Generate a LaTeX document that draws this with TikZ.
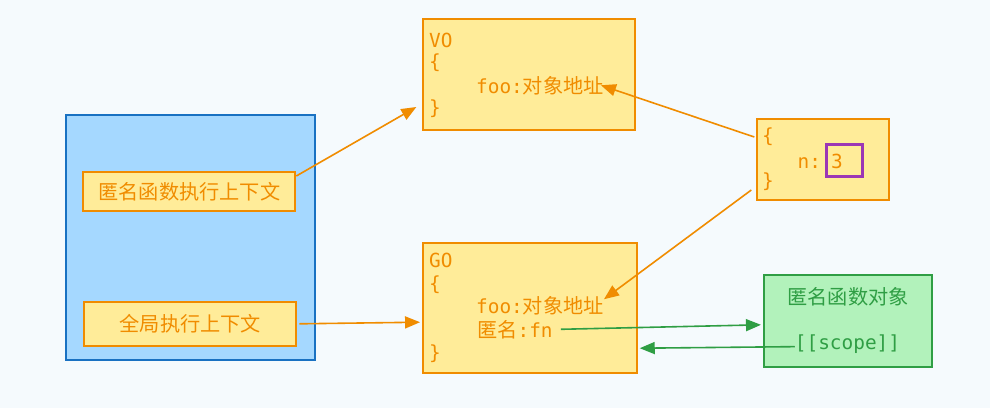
\documentclass[tikz,border=0pt]{standalone}
\usepackage{fontspec}
\setmonofont{DejaVu Sans Mono}
\newfontfamily\cjk{Noto Sans CJK SC}
\usetikzlibrary{arrows.meta}
\definecolor{bg}{HTML}{F5FAFD}
\definecolor{ofill}{HTML}{FFEC99}
\definecolor{ostroke}{HTML}{F08C00}
\definecolor{bfill}{HTML}{A5D8FF}
\definecolor{bstroke}{HTML}{1971C2}
\definecolor{gfill}{HTML}{B2F2BB}
\definecolor{gstroke}{HTML}{2F9E44}
\definecolor{pstroke}{HTML}{9C36B5}
\begin{document}
\begin{tikzpicture}[x=1pt,y=-1pt,
  ybox/.style={draw=ostroke,fill=ofill,line width=2pt,rectangle,inner sep=0pt},
  otxt/.style={inner sep=0pt,anchor=base west,text=ostroke,font=\fontsize{19.4}{22}\selectfont\ttfamily},
  gtxt/.style={inner sep=0pt,anchor=base,text=gstroke,font=\fontsize{19.4}{22}\selectfont\ttfamily},
  cjkfont/.style={font=\fontsize{20.2}{22}\selectfont\cjk},
  oarr/.style={draw=ostroke,line width=1.6pt,-{Triangle[length=15pt,width=12pt]}},
  garr/.style={draw=gstroke,line width=1.6pt,-{Triangle[length=15pt,width=12pt]}}]
\fill[bg] (0,0) rectangle (990,408);
\useasboundingbox (0,0) rectangle (990,408);

% left container
\node[draw=bstroke,fill=bfill,line width=2pt,minimum width=249pt,minimum height=244.5pt,inner sep=0pt] (stack) at (190.7,237.7) {};
\node[ybox,minimum width=212pt,minimum height=38.4pt,text=ostroke,cjkfont] (ctx1) at (189.3,191.5) {匿名函数执行上下文};
\node[ybox,minimum width=212pt,minimum height=44.3pt,text=ostroke,cjkfont] (ctx2) at (190.3,323.8) {全局执行上下文};

% VO
\node[ybox,minimum width=211.7pt,minimum height=111pt] (vo) at (529.2,74.5) {};
\node[otxt] (vol1) at (429,47) {VO};
\node[otxt] (vol2) at (429,68) {\{};
\node[otxt] (vofoo) at (476,93) {foo:{\fontsize{20.2}{22}\selectfont\cjk 对象地址}};
\node[otxt] (vol4) at (429,114) {\}};

% GO
\node[ybox,minimum width=213.7pt,minimum height=130.3pt] (go) at (529.9,308.2) {};
\node[otxt] (gol1) at (429,267) {GO};
\node[otxt] (gol2) at (429,290) {\{};
\node[otxt] (gofoo) at (476,313) {foo:{\fontsize{20.2}{22}\selectfont\cjk 对象地址}};
\node[otxt] (gofn) at (477,337) {{\fontsize{20.2}{22}\selectfont\cjk 匿名}:fn};
\node[otxt] (gol5) at (429,359) {\}};

% n object
\node[ybox,minimum width=132pt,minimum height=81pt] (nbox) at (823.3,159.5) {};
\node[otxt] (nl1) at (762,142) {\{};
\node[otxt] (nl2) at (797.5,168) {n:};
\node[draw=pstroke,line width=3pt,minimum width=36pt,minimum height=32pt,inner sep=0pt] (pbox) at (844,160) {};
\node[otxt] (three) at (831,168) {3};
\node[otxt] (nl3) at (762,187) {\}};

% function object
\node[draw=gstroke,fill=gfill,line width=2pt,minimum width=167.7pt,minimum height=91.7pt,inner sep=0pt] (fobj) at (847.8,320.8) {};
\node[gtxt,cjkfont] (ftitle) at (848,304) {匿名函数对象};
\node[gtxt] (scope) at (847.5,349) {[[scope]]};

% connectors
\draw[oarr] ([yshift=15.5pt]ctx1.east) -- ([xshift=-6pt,yshift=-32.5pt]vo.west);
\draw[oarr] ([xshift=2pt]ctx2.east) -- ([xshift=-2pt,yshift=-14pt]go.west);
\draw[oarr] ([xshift=-2pt,yshift=22.5pt]nbox.west) -- ([xshift=-3pt]vofoo.east);
\draw[oarr] ([xshift=-5pt,yshift=-30.5pt]nbox.west) -- ([yshift=6pt]gofoo.east);
\draw[garr] ([xshift=8pt]gofn.east) -- ([xshift=-2pt,yshift=-4pt]fobj.west);
\draw[garr] ([yshift=-3pt]scope.west) -- ([xshift=2pt,yshift=-40pt]go.east);
\end{tikzpicture}
\end{document}
